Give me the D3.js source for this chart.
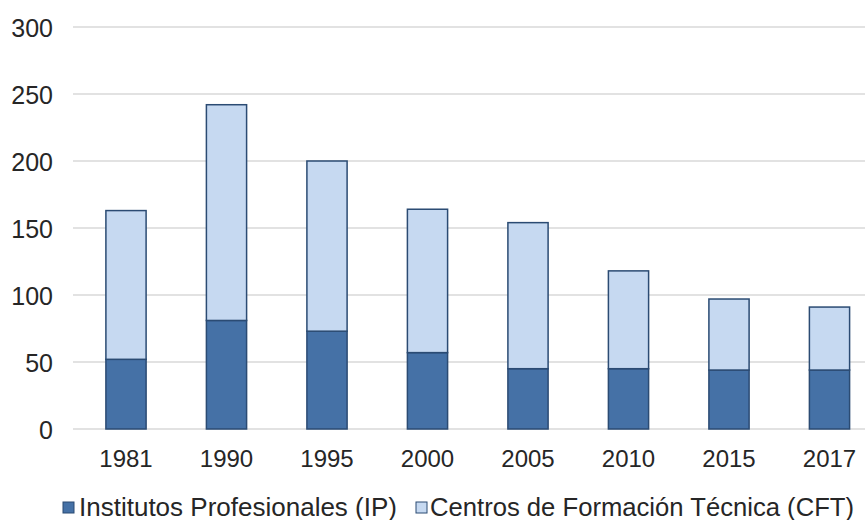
<!DOCTYPE html>
<html>
<head>
<meta charset="utf-8">
<script src="https://cdn.jsdelivr.net/npm/d3@7"></script>
<style>
  html, body { margin: 0; padding: 0; background: #ffffff; }
  svg { display: block; }
  text { font-family: "Liberation Sans", Arial, sans-serif; fill: #262626; }
</style>
</head>
<body>
<svg id="chart" width="865" height="520"></svg>
<script>
const years = ["1981", "1990", "1995", "2000", "2005", "2010", "2015", "2017"];
const ipValues = [52, 81, 73, 57, 45, 45, 44, 44];
const cftValues = [111, 161, 127, 107, 109, 73, 53, 47];
const yTicks = [0, 50, 100, 150, 200, 250, 300];
const seriesNames = ["Institutos Profesionales (IP)", "Centros de Formación Técnica (CFT)"];
const seriesColors = ["#4571a6", "#c6d9f1"];

const svg = d3.select("#chart");
const W = 865, H = 520;

const x = d3.scaleBand()
  .domain(years)
  .range([75.75, 879.75])
  .paddingInner(0.6)
  .paddingOuter(0.3);

const y = d3.scaleLinear().domain([0, 300]).range([429, 27]);

// gridlines
const grid = svg.append("g");
grid.selectAll("line")
  .data(yTicks)
  .join("line")
  .attr("x1", 73).attr("x2", W)
  .attr("y1", d => y(d)).attr("y2", d => y(d))
  .attr("stroke", "#d9d9d9")
  .attr("stroke-width", 1.5);

// y axis labels
const yAxis = d3.axisLeft(y).tickValues(yTicks).tickSize(0).tickPadding(0);
const yg = svg.append("g").attr("transform", "translate(53,0)").call(yAxis);
yg.select(".domain").remove();
yg.selectAll("text")
  .attr("font-size", "25px")
  .attr("font-family", "Liberation Sans, Arial, sans-serif")
  .attr("fill", "#262626")
  .attr("dy", "0.36em");

// stacked data
const data = years.map((yr, i) => ({ year: yr, ip: ipValues[i], cft: cftValues[i] }));
const stack = d3.stack().keys(["ip", "cft"]);
const series = stack(data);

const bars = svg.append("g");
series.forEach((s, si) => {
  bars.append("g")
    .selectAll("rect")
    .data(s)
    .join("rect")
    .attr("x", d => x(d.data.year))
    .attr("width", x.bandwidth())
    .attr("y", d => y(d[1]))
    .attr("height", d => y(d[0]) - y(d[1]))
    .attr("fill", seriesColors[si])
    .attr("stroke", "#2b4b73")
    .attr("stroke-width", 1.5);
});

// x axis labels
const xAxis = d3.axisBottom(x).tickSize(0).tickPadding(0);
const xg = svg.append("g").attr("transform", "translate(0,467)").call(xAxis);
xg.select(".domain").remove();
xg.selectAll("text")
  .attr("font-size", "24px")
  .attr("font-family", "Liberation Sans, Arial, sans-serif")
  .attr("fill", "#262626")
  .attr("dy", "0");

// legend
const legend = svg.append("g");
const legendItems = [
  { name: seriesNames[0], color: seriesColors[0], sx: 63, tx: 79, len: 318 },
  { name: seriesNames[1], color: seriesColors[1], sx: 416, tx: 430, len: 424 }
];
legendItems.forEach(it => {
  legend.append("rect")
    .attr("x", it.sx).attr("y", 502)
    .attr("width", 11).attr("height", 11)
    .attr("fill", it.color)
    .attr("stroke", "#2b4b73")
    .attr("stroke-width", 1);
  legend.append("text")
    .attr("x", it.tx).attr("y", 516)
    .attr("font-size", "25px")
    .attr("textLength", it.len)
    .attr("lengthAdjust", "spacingAndGlyphs")
    .text(it.name);
});
</script>
</body>
</html>
